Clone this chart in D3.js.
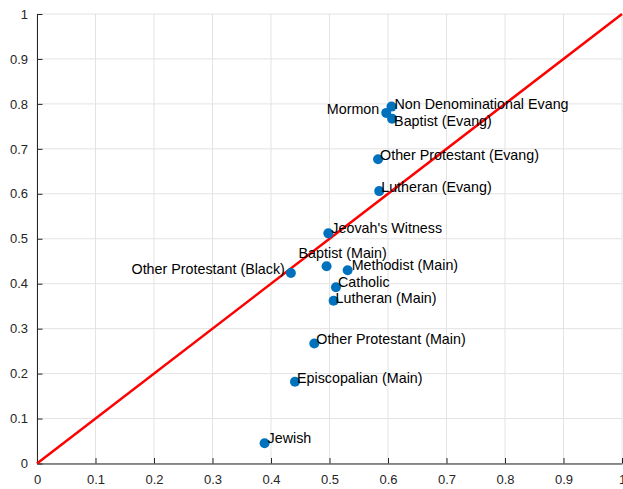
<!DOCTYPE html>
<html><head><meta charset="utf-8">
<script src="https://cdn.jsdelivr.net/npm/d3@7"></script>
<style>html,body{margin:0;padding:0;background:#fff;}svg{display:block;}</style>
</head><body>
<svg id="chart" width="623" height="489"></svg>
<script>
// Data
const names = ["Mormon","Non Denominational Evang","Baptist (Evang)","Other Protestant (Evang)","Lutheran (Evang)","Jeovah's Witness","Baptist (Main)","Methodist (Main)","Other Protestant (Black)","Catholic","Lutheran (Main)","Other Protestant (Main)","Episcopalian (Main)","Jewish"];
const xValues = [0.597,0.606,0.607,0.583,0.585,0.498,0.495,0.531,0.434,0.511,0.507,0.474,0.441,0.389];
const yValues = [0.780,0.794,0.767,0.677,0.606,0.512,0.439,0.430,0.424,0.392,0.362,0.267,0.182,0.045];
const tickValues = [0,0.1,0.2,0.3,0.4,0.5,0.6,0.7,0.8,0.9,1];
const tickLabels = ["0","0.1","0.2","0.3","0.4","0.5","0.6","0.7","0.8","0.9","1"];
const refLine = [[0,0],[1,1]];
// Label layout: anchor and pixel offset of text baseline from the point
const labelAnchor = ["end","start","start","start","start","start","start","start","end","start","start","start","start","start"];
const labelDx = [-7,3,2,2,2,3,-28,4,-6,2,2,2,2,3];
const labelDy = [1,2,7,1,1,0,-8,0,1,0,2,1,1,0];

const svg = d3.select("#chart");
const m = {left:37, right:622, top:14, bottom:463.5};
const x = d3.scaleLinear().domain([0,1]).range([m.left, m.right]);
const y = d3.scaleLinear().domain([0,1]).range([m.bottom, m.top]);
const font = "'Liberation Sans', Arial, Helvetica, sans-serif";

// grid
const g = svg.append("g");
g.selectAll("line.vx").data(tickValues).enter().append("line")
  .attr("x1", d=>x(d)).attr("x2", d=>x(d)).attr("y1", m.top).attr("y2", m.bottom)
  .attr("stroke", "#e3e3e3").attr("stroke-width", 1);
g.selectAll("line.hy").data(tickValues).enter().append("line")
  .attr("y1", d=>y(d)).attr("y2", d=>y(d)).attr("x1", m.left).attr("x2", m.right)
  .attr("stroke", "#e3e3e3").attr("stroke-width", 1);

// axes
const xAxis = d3.axisBottom(x).tickValues(tickValues).tickFormat((d,i)=>tickLabels[i]).tickSizeInner(-5.5).tickSizeOuter(0).tickPadding(11);
const yAxis = d3.axisLeft(y).tickValues(tickValues).tickFormat((d,i)=>tickLabels[i]).tickSizeInner(-5.5).tickSizeOuter(0).tickPadding(9);
const gx = svg.append("g").attr("transform", `translate(0,${m.bottom})`).call(xAxis);
const gy = svg.append("g").attr("transform", `translate(${m.left},0)`).call(yAxis);
[gx, gy].forEach(a=>{
  a.attr("font-size", null).attr("font-family", null);
  a.select(".domain").attr("stroke", "#262626").attr("stroke-width", 1);
  a.selectAll(".tick line").attr("stroke", "#262626");
  a.selectAll(".tick text").attr("fill", "#262626").style("font-family", font).style("font-size", "13px");
});
gy.selectAll(".tick text").attr("x", -9);

// reference line
svg.append("path").datum(refLine)
  .attr("d", d3.line().x(d=>x(d[0])).y(d=>y(d[1])))
  .attr("stroke", "#ff0000").attr("stroke-width", 2.5).attr("fill", "none");

// points
const data = names.map((n,i)=>({name:n, x:xValues[i], y:yValues[i], a:labelAnchor[i], dx:labelDx[i], dy:labelDy[i]}));
svg.selectAll("circle.pt").data(data).enter().append("circle")
  .attr("cx", d=>x(d.x)).attr("cy", d=>y(d.y)).attr("r", 5)
  .attr("fill", "#0072BD");

// labels
svg.selectAll("text.lbl").data(data).enter().append("text")
  .attr("x", d=> x(d.x)+d.dx)
  .attr("y", d=> y(d.y)+d.dy)
  .attr("text-anchor", d=>d.a)
  .attr("fill", "#000")
  .style("font-family", font).style("font-size", "14.3px")
  .text(d=>d.name);
</script>
</body></html>
